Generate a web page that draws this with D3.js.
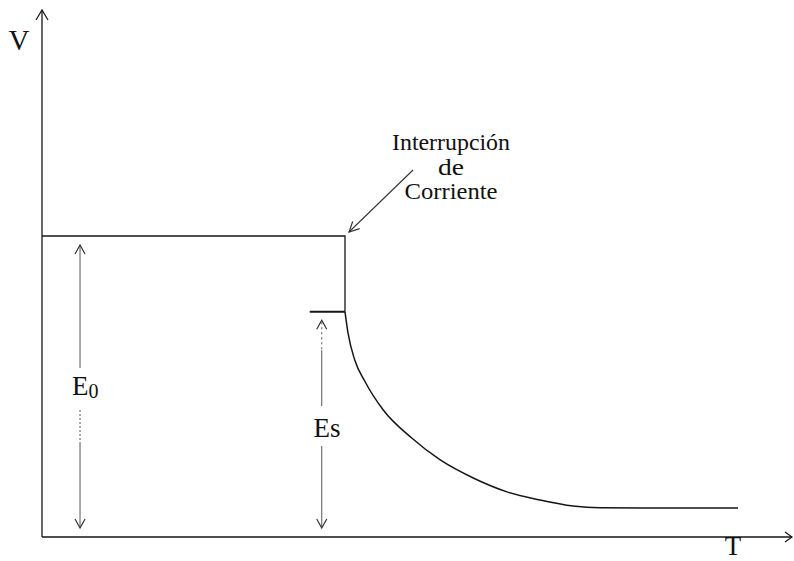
<html>
<head>
<meta charset="utf-8">
<script src="https://cdn.jsdelivr.net/npm/d3@7"></script>
</head>
<body style="margin:0">
<svg id="chart" width="794" height="561" font-family="Liberation Serif"></svg>
<script>
// Potential (V) versus time (T) around a current interruption, arbitrary units.
const levelNames = ["E0", "Es", "final"];
const levelValues = [1.0, 0.748, 0.096];

const tInterrupt = 40.4;     // moment the current is switched off
const tEsMarkStart = 35.7;   // start of the short Es level mark

// Potential before the interruption (constant at E0)
const stepTimes = [0, 40.4, 40.4];
const stepValues = [1.0, 1.0, 0.748];

// Decay of the potential after the interruption
const decayTimes = [40.4, 40.8, 41.7, 43.1, 45.5, 49.3, 53.1, 57.5, 62.0, 66.4, 70.8, 74.4, 80.0, 92.8];
const decayValues = [0.748, 0.678, 0.588, 0.515, 0.422, 0.329, 0.256, 0.196, 0.150, 0.123, 0.103, 0.097, 0.096, 0.096];

// Dimension arrows: time position, top and bottom of each
const dimNames = ["E0", "Es"];
const dimTimes = [5.07, 37.3];
const dimTops = [0.97, 0.72];
const dimBottoms = [0.03, 0.03];

const annotationLines = ["Interrupción", "de", "Corriente"];

const svg = d3.select("#chart");
const x = d3.scaleLinear().domain([0, 100]).range([42, 792]);
const y = d3.scaleLinear().domain([0, 1]).range([537, 236]);

const ink = "#161616";
const grey = "#555";

// Open chevron arrow heads
function chevron(px, py, dir, len, half, color, w) {
  let ang;
  if (dir === "up") ang = -Math.PI / 2;
  else if (dir === "down") ang = Math.PI / 2;
  else if (dir === "right") ang = 0;
  else ang = dir;
  const bx = px - len * Math.cos(ang), by = py - len * Math.sin(ang);
  const nx = -Math.sin(ang), ny = Math.cos(ang);
  svg.append("path")
    .attr("d", `M${bx + nx * half},${by + ny * half}L${px},${py}L${bx - nx * half},${by - ny * half}`)
    .attr("fill", "none").attr("stroke", color).attr("stroke-width", w)
    .attr("stroke-linejoin", "miter");
}

function label(xp, yp, s, size, anchor) {
  return svg.append("text").attr("x", xp).attr("y", yp)
    .attr("font-size", size)
    .attr("font-family", "Liberation Serif")
    .style("font-family", '"Liberation Serif"')
    .attr("text-anchor", anchor || "middle")
    .attr("fill", "#111").text(s);
}

// Axes with arrow heads
const xAxisY = y(0);
svg.append("line").attr("x1", x(0)).attr("y1", xAxisY).attr("x2", 792).attr("y2", xAxisY)
  .attr("stroke", ink).attr("stroke-width", 1.3);
chevron(792, xAxisY, "right", 7, 5, ink, 1.2);
svg.append("line").attr("x1", x(0)).attr("y1", xAxisY).attr("x2", x(0)).attr("y2", 10)
  .attr("stroke", ink).attr("stroke-width", 1.3);
chevron(x(0), 10, "up", 10, 6, ink, 1.2);

label(19, 50, "V", 29);
label(733, 555, "T", 27);

// Potential curve
const line = d3.line().x(d => x(d[0])).y(d => y(d[1]));
svg.append("path")
  .datum(stepTimes.map((t, i) => [t, stepValues[i]]))
  .attr("d", line).attr("fill", "none").attr("stroke", ink).attr("stroke-width", 1.3);

svg.append("path")
  .datum(decayTimes.map((t, i) => [t, decayValues[i]]))
  .attr("d", d3.line().x(d => x(d[0])).y(d => y(d[1])).curve(d3.curveMonotoneX))
  .attr("fill", "none").attr("stroke", ink).attr("stroke-width", 1.5);

// Es level mark
svg.append("line")
  .attr("x1", x(tEsMarkStart)).attr("x2", x(tInterrupt))
  .attr("y1", y(levelValues[1])).attr("y2", y(levelValues[1]))
  .attr("stroke", ink).attr("stroke-width", 2);

// Dimension arrows with labels breaking the shaft
const gapsE0 = [368, 410];
const gapsEs = [406, 446];
function dimension(i, gap, dottedTop, dottedBottom) {
  const px = x(dimTimes[i]);
  const yt = y(dimTops[i]), yb = y(dimBottoms[i]);
  if (dottedTop) {
    svg.append("line").attr("x1", px).attr("x2", px).attr("y1", yt + 2).attr("y2", yt + 30)
      .attr("stroke", grey).attr("stroke-width", 1).attr("stroke-dasharray", "2,3");
    svg.append("line").attr("x1", px).attr("x2", px).attr("y1", yt + 30).attr("y2", gap[0])
      .attr("stroke", grey).attr("stroke-width", 1);
  } else {
    svg.append("line").attr("x1", px).attr("x2", px).attr("y1", yt + 1).attr("y2", gap[0])
      .attr("stroke", grey).attr("stroke-width", 1);
  }
  if (dottedBottom) {
    svg.append("line").attr("x1", px).attr("x2", px).attr("y1", gap[1]).attr("y2", gap[1] + 32)
      .attr("stroke", grey).attr("stroke-width", 1).attr("stroke-dasharray", "2,2");
    svg.append("line").attr("x1", px).attr("x2", px).attr("y1", gap[1] + 32).attr("y2", yb - 1)
      .attr("stroke", grey).attr("stroke-width", 1);
  } else {
    svg.append("line").attr("x1", px).attr("x2", px).attr("y1", gap[1]).attr("y2", yb - 1)
      .attr("stroke", grey).attr("stroke-width", 1);
  }
  chevron(px, yt, "up", 9, 5, "#333", 1.2);
  chevron(px, yb, "down", 9, 5, "#333", 1.2);
}
dimension(0, gapsE0, false, true);
dimension(1, gapsEs, true, false);

// E0 label with subscript
const e0 = label(72, 395, "", 27, "start");
e0.append("tspan").text("E");
e0.append("tspan").attr("font-size", 20).attr("dy", 3).text("0");

label(327, 437, "Es", 27);

// Annotation pointing at the interruption
const annX = 451;
const annBaselines = [150, 175, 199];
const annWidths = [118, 26, 93];
annotationLines.forEach((s, i) => {
  label(annX, annBaselines[i], s, 23)
    .attr("textLength", annWidths[i]).attr("lengthAdjust", "spacingAndGlyphs");
});
const ax1 = 413, ay1 = 170, ax2 = x(tInterrupt) + 4, ay2 = y(levelValues[0]) - 4;
svg.append("line").attr("x1", ax1).attr("y1", ay1).attr("x2", ax2).attr("y2", ay2)
  .attr("stroke", "#333").attr("stroke-width", 1.1);
chevron(ax2, ay2, Math.atan2(ay2 - ay1, ax2 - ax1), 10, 5, "#333", 1.2);
</script>
</body>
</html>
